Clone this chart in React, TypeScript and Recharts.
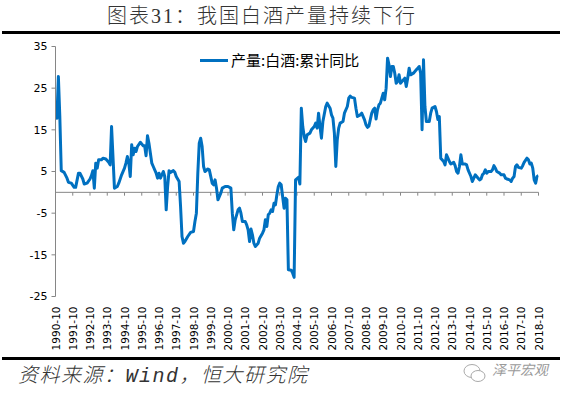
import { LineChart, Line, XAxis, YAxis, ReferenceLine, Legend } from 'recharts'

// 白酒产量累计同比 (%), month by month where the line turns
const months = [
  '1990-10', '1990-11', '1990-12', '1991-01', '1991-02', '1991-04', '1991-06', '1991-07', '1991-09', '1991-11', '1991-12',
  '1992-02', '1992-03', '1992-05', '1992-06', '1992-08', '1992-10', '1992-11', '1992-12',
  '1993-01', '1993-02', '1993-03', '1993-04', '1993-06', '1993-07', '1993-09', '1993-11', '1993-12',
  '1994-01', '1994-03', '1994-05', '1994-06', '1994-08', '1994-10', '1994-11', '1994-12',
  '1995-01', '1995-02', '1995-03', '1995-04', '1995-05', '1995-06', '1995-07', '1995-09', '1995-11', '1995-12',
  '1996-01', '1996-02', '1996-03', '1996-05', '1996-06', '1996-08', '1996-09', '1996-10', '1996-11',
  '1997-01', '1997-02', '1997-03', '1997-04', '1997-05', '1997-06', '1997-08', '1997-09', '1997-10', '1997-12',
  '1998-01', '1998-02', '1998-03', '1998-04', '1998-06', '1998-08', '1998-10', '1998-11', '1998-12',
  '1999-01', '1999-02', '1999-03', '1999-04', '1999-05', '1999-06', '1999-08', '1999-09', '1999-11', '1999-12',
  '2000-01', '2000-02', '2000-03', '2000-05', '2000-06', '2000-08', '2000-10', '2000-12',
  '2001-01', '2001-02', '2001-03', '2001-05', '2001-06', '2001-07', '2001-08', '2001-10', '2001-11', '2001-12',
  '2002-01', '2002-02', '2002-03', '2002-04', '2002-05', '2002-07', '2002-08', '2002-10', '2002-11', '2002-12',
  '2003-01', '2003-02', '2003-03', '2003-04', '2003-05', '2003-06', '2003-07', '2003-08', '2003-09', '2003-10', '2003-11', '2003-12',
  '2004-01', '2004-02', '2004-03', '2004-04', '2004-06', '2004-07', '2004-08', '2004-09', '2004-11', '2004-12',
  '2005-01', '2005-02', '2005-03', '2005-04', '2005-05', '2005-07', '2005-08', '2005-10', '2005-11', '2005-12',
  '2006-01', '2006-02', '2006-03', '2006-04', '2006-06', '2006-07', '2006-09', '2006-10', '2006-11', '2006-12',
  '2007-01', '2007-02', '2007-03', '2007-04', '2007-06', '2007-07', '2007-09', '2007-10', '2007-11', '2007-12',
  '2008-02', '2008-03', '2008-04', '2008-06', '2008-07', '2008-09', '2008-10', '2008-11', '2008-12',
  '2009-02', '2009-03', '2009-04', '2009-05', '2009-06', '2009-07', '2009-08', '2009-09', '2009-10', '2009-11', '2009-12',
  '2010-01', '2010-02', '2010-03', '2010-04', '2010-05', '2010-06', '2010-07', '2010-08', '2010-09', '2010-10', '2010-11',
  '2011-01', '2011-02', '2011-03', '2011-04', '2011-05', '2011-07', '2011-08', '2011-09', '2011-10', '2011-11', '2011-12',
  '2012-01', '2012-02', '2012-03', '2012-04', '2012-05', '2012-06', '2012-07', '2012-08', '2012-10', '2012-11', '2012-12',
  '2013-01', '2013-02', '2013-04', '2013-05', '2013-06', '2013-07', '2013-08', '2013-09', '2013-11', '2013-12',
  '2014-01', '2014-02', '2014-03', '2014-04', '2014-05', '2014-07', '2014-08', '2014-09', '2014-11', '2014-12',
  '2015-01', '2015-02', '2015-04', '2015-05', '2015-06', '2015-07', '2015-08', '2015-09', '2015-10', '2015-11',
  '2016-01', '2016-02', '2016-03', '2016-04', '2016-05', '2016-07', '2016-08', '2016-10', '2016-11', '2016-12',
  '2017-02', '2017-03', '2017-04', '2017-05', '2017-06', '2017-07', '2017-08', '2017-10', '2017-11', '2017-12',
  '2018-02', '2018-03', '2018-04', '2018-05', '2018-06', '2018-07', '2018-08', '2018-09', '2018-10',
]

const values = [
  19.8, 17.8, 27.8, 18.2, 5.2, 4.8, 3.4, 2.4, 2.2, 1.2, 1.2,
  4.6, 4.6, 3.2, 2.0, 2.2, 3.2, 4.0, 5.2,
  1.0, 7.0, 5.8, 7.8, 7.8, 8.2, 8.0, 7.2, 6.6,
  15.8, 1.0, 1.4, 2.2, 4.2, 5.8, 7.0, 8.6,
  7.0, 3.8, 11.4, 9.0, 10.6, 9.8, 11.0, 12.0, 11.2, 11.2,
  8.8, 13.6, 11.8, 7.0, 6.2, 4.6, 3.4, 4.6, 3.4,
  5.0, 3.8, -4.2, 1.4, 5.2, 4.8, 5.2, 4.8, 3.8, 2.6,
  -3.4, -10.6, -12.2, -11.8, -10.6, -9.6, -9.4, -7.0, -5.0,
  4.6, 11.8, 13.0, 11.0, 6.2, 5.0, 5.6, 5.4, 2.2, 1.8,
  3.0, 1.0, -1.8, -0.2, 1.0, 1.4, 1.4, 1.0,
  -5.0, -9.0, -6.6, -4.2, -3.8, -5.0, -7.0, -7.0, -7.8, -9.0,
  -11.8, -8.8, -10.2, -12.2, -13.0, -12.2, -11.0, -9.8, -9.0, -6.6,
  -8.2, -5.4, -5.0, -4.2, -4.6, -2.6, -3.0, -0.6, 1.4, 2.2, 1.8, -1.0,
  -3.8, -1.4, -1.8, -18.6, -18.7, -19.4, -20.4, 3.0, 3.6, 2.0,
  20.2, 15.8, 13.4, 12.2, 13.8, 14.2, 15.0, 15.8, 16.6, 15.4,
  19.0, 15.8, 13.0, 17.0, 20.6, 21.4, 20.2, 18.6, 17.8, 14.2,
  6.2, 12.6, 15.4, 16.6, 17.0, 19.0, 20.6, 22.6, 23.1, 22.8,
  22.6, 20.2, 18.2, 18.6, 19.0, 17.4, 16.2, 15.6, 15.9,
  19.0, 19.8, 20.2, 17.6, 19.8, 21.0, 21.4, 22.6, 23.8, 22.2, 25.0,
  32.2, 30.6, 27.8, 30.2, 30.2, 28.6, 26.2, 26.6, 28.2, 26.2, 26.6,
  27.4, 25.4, 27.4, 29.8, 28.2, 28.6, 29.0, 29.4, 29.8, 30.2, 28.6,
  15.0, 31.8, 20.6, 17.0, 17.0, 17.0, 19.0, 20.2, 20.6, 19.4, 17.5,
  18.2, 8.2, 7.4, 6.6, 9.0, 8.2, 7.4, 6.8, 7.2, 6.4,
  5.0, 4.6, 6.2, 9.0, 6.8, 6.8, 6.6, 5.4, 3.8, 2.6,
  3.4, 4.2, 3.4, 3.0, 3.2, 4.2, 4.6, 5.4, 4.6, 5.0,
  5.0, 5.4, 6.4, 5.8, 5.0, 4.6, 4.2, 4.2, 3.4, 3.2,
  3.0, 2.6, 3.4, 3.8, 6.2, 6.6, 6.0, 5.8, 6.4, 7.2,
  8.2, 7.8, 6.8, 7.0, 5.8, 3.0, 2.2, 3.8, 4.0,
]

const yTicks = [-25, -15, -5, 5, 15, 25, 35]
const seriesName = '产量:白酒:累计同比'

// months since 1990-10
const toIndex = (d: string) => {
  const [y, m] = d.split('-').map(Number)
  return (y - 1990) * 12 + (m - 10)
}
const toLabel = (i: number) => {
  const y = 1990 + Math.floor((i + 9) / 12)
  const m = ((i + 9) % 12) + 1
  return `${y}-${String(m).padStart(2, '0')}`
}

const data = months.map((d, i) => ({ idx: toIndex(d), value: values[i] }))
const xTicks = Array.from({ length: 29 }, (_, i) => i * 12) // every October, 1990-10 … 2018-10

const AXIS = '#868686'
const BLUE = '#0070C0'

function XTick(props: any) {
  const { x, y, payload } = props
  return (
    <text
      x={x}
      y={y}
      transform={`rotate(-90 ${x} ${y})`}
      textAnchor="end"
      dominantBaseline="central"
      fontSize={10.5}
      fontFamily="DejaVu Sans"
      fill="#000"
    >
      {toLabel(payload.value)}
    </text>
  )
}

function LegendBox() {
  return (
    <div style={{ display: 'flex', alignItems: 'center', whiteSpace: 'nowrap' }}>
      <span style={{ display: 'inline-block', width: 28, height: 3, background: BLUE, marginRight: 3 }} />
      <span style={{ fontSize: 15, fontFamily: '"Noto Sans CJK SC"', color: '#000', lineHeight: '18px' }}>
        {seriesName}
      </span>
    </div>
  )
}

export default function App() {
  return (
    <div
      style={{
        position: 'absolute',
        left: 0,
        top: 0,
        width: 565,
        height: 395,
        background: '#fff',
        overflow: 'hidden',
      }}
    >
      <div
        style={{
          position: 'absolute',
          left: 107,
          top: 5,
          fontSize: 20,
          lineHeight: '22px',
          letterSpacing: 2,
          fontWeight: 300,
          fontFamily: '"Liberation Serif", "Noto Sans CJK SC"',
          color: '#333',
          whiteSpace: 'nowrap',
        }}
      >
        图表31：我国白酒产量持续下行
      </div>
      <div style={{ position: 'absolute', left: 2, top: 31, width: 558, height: 3, background: '#000' }} />

      <LineChart
        width={565}
        height={395}
        data={data}
        margin={{ top: 46.5, right: 26.5, left: 0, bottom: 38.5 }}
      >
        <XAxis
          type="number"
          dataKey="idx"
          domain={[0, 336]}
          ticks={xTicks}
          interval={0}
          axisLine={false}
          tickLine={false}
          tickSize={0}
          tickMargin={10}
          height={60}
          tick={<XTick />}
          allowDataOverflow
        />
        <YAxis
          type="number"
          domain={[-25, 35]}
          ticks={yTicks}
          interval={0}
          width={55.5}
          axisLine={{ stroke: AXIS }}
          tickLine={{ stroke: AXIS }}
          tickSize={4}
          tickMargin={4}
          tick={{ fontSize: 11, fill: '#000', fontFamily: 'DejaVu Sans' }}
          allowDataOverflow
        />
        <ReferenceLine y={0} stroke={AXIS} strokeWidth={1} />
        {xTicks.map((t) => (
          <ReferenceLine
            key={t}
            segment={[
              { x: t, y: 0 },
              { x: t, y: -0.8 },
            ]}
            stroke={AXIS}
          />
        ))}
        <Legend
          layout="vertical"
          verticalAlign="middle"
          align="center"
          wrapperStyle={{ position: 'absolute', top: 51, left: 200, width: 'auto' }}
          content={<LegendBox />}
        />
        <Line
          type="linear"
          dataKey="value"
          name={seriesName}
          stroke={BLUE}
          strokeWidth={3}
          strokeLinejoin="round"
          dot={false}
          isAnimationActive={false}
        />
      </LineChart>

      <div style={{ position: 'absolute', left: 2, top: 357, width: 558, height: 3, background: '#000' }} />
      <div
        style={{
          position: 'absolute',
          left: 18,
          top: 366,
          fontSize: 20,
          lineHeight: '22px',
          letterSpacing: 1.5,
          fontStyle: 'italic',
          fontWeight: 300,
          fontFamily: '"Liberation Mono", "Noto Sans CJK SC"',
          color: '#333',
          whiteSpace: 'nowrap',
        }}
      >
        资料来源：Wind，恒大研究院
      </div>
      <svg style={{ position: 'absolute', left: 462, top: 362 }} width={26} height={22}>
        <ellipse cx={10} cy={9} rx={8} ry={6.5} fill="none" stroke="#aaa" strokeWidth={1} />
        <ellipse cx={16} cy={14} rx={7} ry={5.5} fill="#fff" stroke="#aaa" strokeWidth={1} />
      </svg>
      <div
        style={{
          position: 'absolute',
          left: 492,
          top: 361,
          fontSize: 14,
          lineHeight: '16px',
          fontStyle: 'italic',
          fontFamily: '"Noto Sans CJK SC"',
          color: '#9a9a9a',
          whiteSpace: 'nowrap',
        }}
      >
        泽平宏观
      </div>
    </div>
  )
}
